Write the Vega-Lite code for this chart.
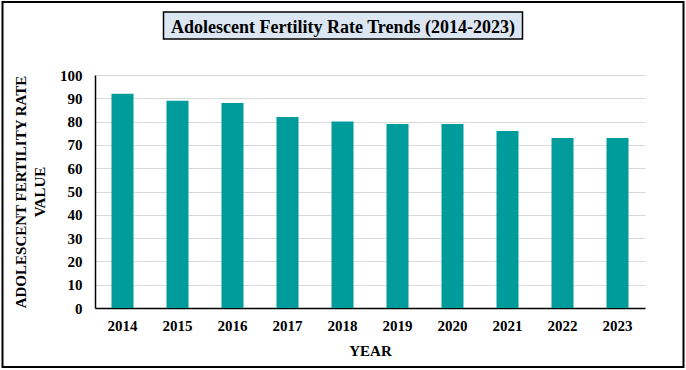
{
  "$schema": "https://vega.github.io/schema/vega-lite/v6.json",
  "width": 550,
  "height": 233,
  "autosize": {"type": "none"},
  "padding": {"left": 95, "top": 75, "right": 41, "bottom": 62},
  "background": "white",
  "title": {
    "text": "Adolescent Fertility Rate Trends (2014-2023)",
    "font": "Liberation Serif",
    "fontSize": 18,
    "fontWeight": "bold",
    "color": "#000000",
    "anchor": "middle",
    "dx": -27,
    "offset": -36
  },
  "data": {
    "values": [
      {"year": "2014", "value": 92},
      {"year": "2015", "value": 89},
      {"year": "2016", "value": 88},
      {"year": "2017", "value": 82},
      {"year": "2018", "value": 80},
      {"year": "2019", "value": 79},
      {"year": "2020", "value": 79},
      {"year": "2021", "value": 76},
      {"year": "2022", "value": 73},
      {"year": "2023", "value": 73}
    ]
  },
  "layer": [
    {
      "data": {"values": [{}]},
      "mark": {"type": "rect", "fill": null, "fillOpacity": 0, "stroke": "#000000", "strokeWidth": 2},
      "encoding": {
        "x": {"value": -92.5},
        "x2": {"value": 588.5},
        "y": {"value": -73},
        "y2": {"value": 292}
      }
    },
    {
      "data": {"values": [{}]},
      "mark": {"type": "rect", "fill": "#dce6f2", "stroke": "#000000", "strokeWidth": 1.5},
      "encoding": {
        "x": {"value": 68.5},
        "x2": {"value": 427.5},
        "y": {"value": -63},
        "y2": {"value": -36}
      }
    },
    {
      "mark": {"type": "bar", "color": "#009b9b"},
      "encoding": {
        "x": {
          "field": "year",
          "type": "ordinal",
          "scale": {"paddingInner": 0.6, "paddingOuter": 0.3},
          "axis": {
            "title": "YEAR",
            "labelAngle": 0,
            "labelPadding": 10,
            "titlePadding": 10,
            "ticks": false,
            "grid": false,
            "domainColor": "#000000",
            "domainWidth": 1.5
          }
        },
        "y": {
          "field": "value",
          "type": "quantitative",
          "scale": {"domain": [0, 100]},
          "axis": {
            "title": ["ADOLESCENT FERTILITY RATE", "VALUE"],
            "values": [0, 10, 20, 30, 40, 50, 60, 70, 80, 90, 100],
            "ticks": false,
            "labelPadding": 13,
            "titlePadding": 12,
            "titleLineHeight": 19,
            "grid": true,
            "gridColor": "#d9d9d9",
            "gridWidth": 1.2,
            "domainColor": "#000000",
            "domainWidth": 1.5
          }
        }
      }
    }
  ],
  "config": {
    "view": {"stroke": null},
    "axis": {
      "labelFont": "Liberation Serif",
      "labelFontSize": 15,
      "labelFontWeight": "bold",
      "labelColor": "#000000",
      "titleFont": "Liberation Serif",
      "titleFontSize": 15,
      "titleFontWeight": "bold",
      "titleColor": "#000000"
    }
  }
}
